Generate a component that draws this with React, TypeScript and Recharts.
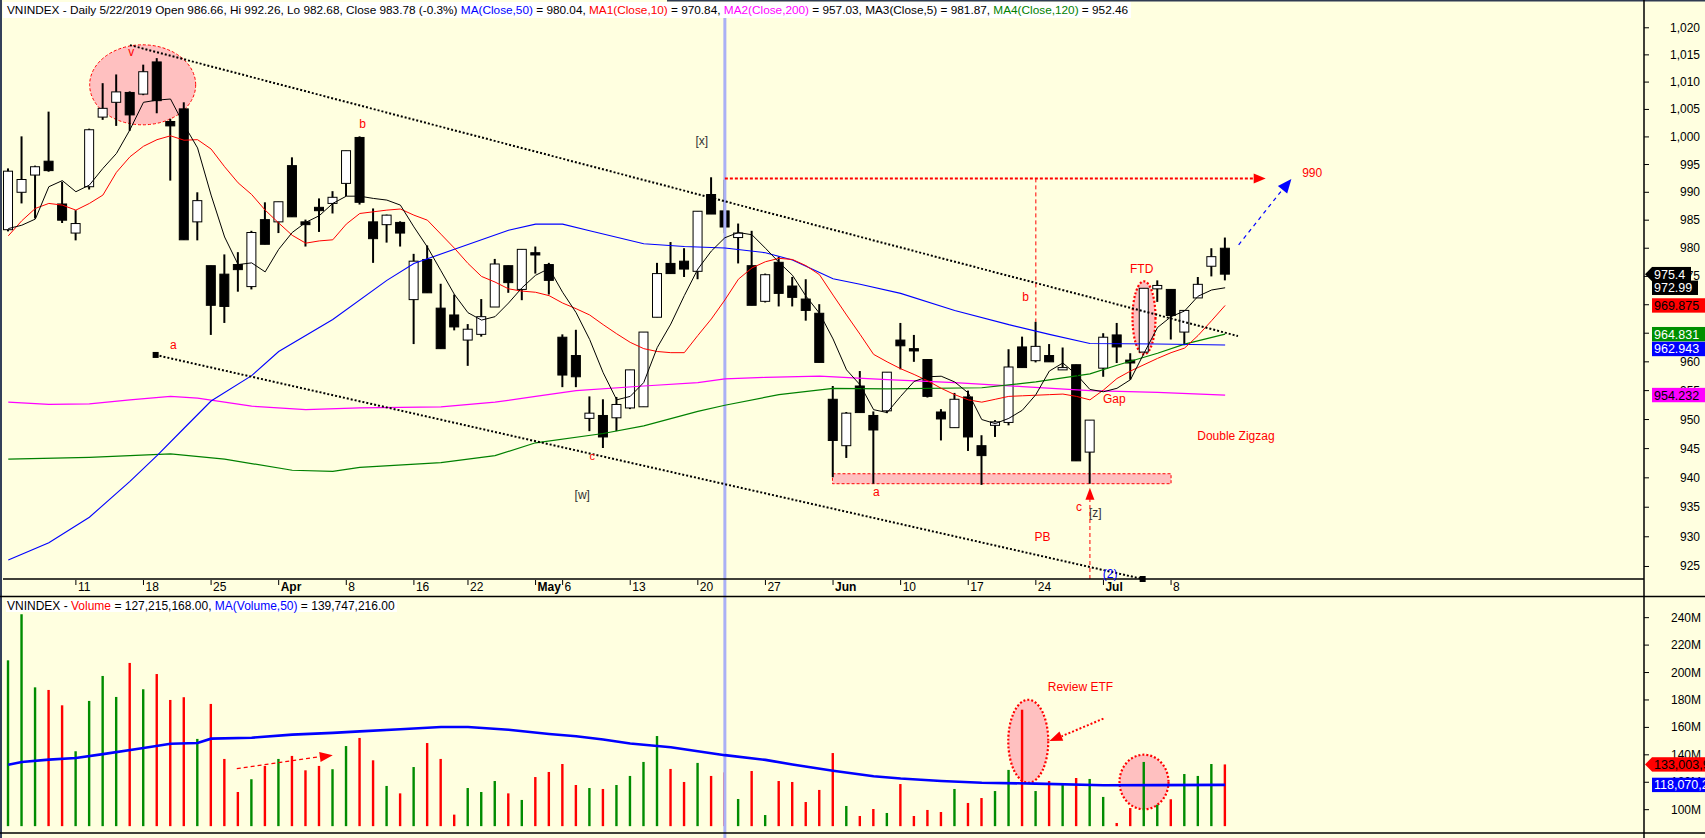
import React from 'react';
import {
  ComposedChart,
  Bar,
  Line,
  XAxis,
  YAxis,
  ReferenceLine,
  ReferenceDot,
  ReferenceArea,
} from 'recharts';

// ---------------- data ----------------
// trading sessions 4 Mar 2019 .. 12 Jul 2019, index 0..90
const OPEN = [
  983.3, 990.0, 993.1, 995.6, 987.9, 982.7, 991.0, 1003.6, 1006.3, 1008.1,
  1007.8, 1013.7, 1002.8, 1005.1, 984.7, 976.9, 975.4, 977.1, 973.2, 985.1,
  984.7, 994.8, 984.7, 987.3, 988.0, 991.6, 999.9, 984.7, 984.2, 984.6,
  970.9, 978.0, 969.4, 968.2, 963.8, 964.8, 969.6, 976.9, 972.7, 979.2,
  977.1, 964.3, 961.1, 950.2, 950.7, 950.3, 952.0, 952.2, 967.8, 977.3,
  977.7, 975.9, 989.6, 986.66, 981.9, 976.9, 970.6, 977.5, 973.3, 971.0,
  968.5, 953.5, 945.5, 955.8, 950.7, 951.5, 963.8, 962.3, 960.4, 951.3,
  948.6, 953.9, 945.5, 949.0, 949.5, 962.6, 960.2, 961.1, 958.6, 959.5,
  944.4, 958.9, 964.7, 960.3, 961.7, 972.8, 972.7, 965.2, 971.2, 976.8,
  980.0,
];
const HIGH = [
  994.3, 1000.1, 994.8, 1004.6, 991.9, 986.8, 1001.5, 1009.8, 1011.4, 1008.3,
  1013.2, 1014.4, 1003.3, 1006.3, 990.0, 976.9, 978.9, 979.3, 983.1, 988.2,
  988.3, 996.3, 985.1, 988.9, 990.2, 997.5, 1000.1, 987.1, 986.0, 984.8,
  979.0, 980.5, 973.7, 971.8, 966.6, 971.0, 978.1, 976.9, 979.8, 980.3,
  977.4, 964.8, 965.6, 954.0, 953.5, 953.9, 958.6, 965.2, 977.4, 981.1,
  980.0, 986.6, 992.7, 992.26, 984.4, 983.1, 975.5, 978.5, 974.9, 974.5,
  970.1, 955.8, 951.3, 958.4, 951.4, 958.2, 966.8, 964.7, 960.4, 951.8,
  954.6, 955.0, 947.3, 949.9, 962.2, 964.4, 967.0, 963.1, 962.5, 959.5,
  949.9, 965.0, 966.8, 961.5, 972.9, 974.3, 972.7, 969.0, 974.9, 980.0,
  981.9,
];
const LOW = [
  983.0, 988.0, 985.3, 993.7, 984.5, 981.4, 990.5, 1003.1, 1002.0, 1001.1,
  1007.6, 1004.3, 992.1, 981.5, 981.4, 964.7, 966.8, 972.3, 972.7, 980.7,
  982.7, 985.6, 980.3, 982.9, 986.2, 989.3, 987.8, 977.4, 981.0, 980.3,
  963.1, 972.1, 962.3, 965.5, 959.3, 964.4, 969.6, 972.1, 970.8, 975.5,
  971.8, 955.6, 955.6, 948.0, 945.1, 948.0, 951.8, 952.2, 967.8, 975.5,
  974.9, 974.5, 986.1, 982.68, 977.3, 969.9, 970.4, 969.7, 969.7, 967.2,
  959.9, 940.1, 943.4, 951.2, 939.0, 951.1, 958.7, 960.0, 953.8, 946.4,
  948.6, 944.6, 938.8, 947.0, 949.0, 959.0, 959.9, 960.0, 958.6, 942.9,
  939.0, 957.4, 959.8, 956.9, 961.7, 970.5, 963.9, 962.9, 971.2, 975.0,
  974.3,
];
const CLOSE = [
  993.8, 992.3, 994.6, 993.9, 985.0, 984.4, 1001.3, 1005.2, 1008.2, 1004.0,
  1011.9, 1006.6, 1002.0, 981.5, 988.5, 969.9, 969.7, 976.2, 982.8, 980.7,
  988.3, 985.6, 984.2, 986.7, 989.1, 997.5, 988.2, 981.7, 985.9, 982.7,
  977.7, 972.1, 962.3, 966.1, 965.7, 967.9, 977.2, 973.9, 979.8, 978.8,
  974.3, 957.7, 957.4, 951.1, 947.0, 952.6, 958.6, 965.2, 975.5, 975.5,
  976.3, 986.6, 986.1, 983.78, 982.7, 969.9, 975.3, 972.0, 971.3, 969.0,
  959.9, 946.4, 951.1, 951.2, 948.2, 958.2, 962.8, 961.9, 954.0, 950.1,
  953.5, 947.0, 943.8, 949.6, 959.1, 959.0, 962.7, 960.0, 959.0, 942.9,
  949.9, 964.3, 962.6, 959.8, 972.9, 973.4, 968.1, 969.0, 973.6, 978.5,
  975.4,
];
// volume in millions of shares
const VOLUME_M = [
  208.9, 242.5, 189.2, 187.3, 176.1, 142.6, 179.3, 197.5, 182.2, 207.0,
  187.8, 198.9, 180.0, 182.0, 151.6, 177.1, 137.0, 112.9, 122.2, 131.9,
  137.0, 139.2, 128.7, 131.9, 129.5, 146.4, 152.3, 136.0, 117.3, 111.9,
  131.1, 148.6, 137.0, 96.4, 115.8, 112.9, 120.9, 111.9, 107.1, 123.8,
  127.5, 133.3, 118.0, 115.8, 115.1, 118.0, 124.6, 134.8, 153.7, 129.7,
  120.2, 134.1, 124.6, 127.2, 107.8, 128.2, 96.1, 120.9, 120.2, 105.6,
  114.4, 141.3, 102.7, 95.4, 100.5, 97.6, 118.7, 95.4, 99.8, 98.3,
  115.1, 104.9, 108.5, 113.6, 129.0, 172.9, 113.6, 120.9, 119.4, 123.1,
  122.4, 109.3, 90.3, 101.2, 134.8, 103.6, 107.6, 126.0, 124.6, 133.3,
  133.0,
];
const MA5 = [
  983.5, 984.1, 985.2, 991.0, 992.1, 990.1, 991.3, 994.3, 997.0, 1001.3,
  1006.3, 1006.7, 1006.9, 1002.2, 998.0, 989.5, 982.0, 977.1, 977.4, 975.8,
  979.8, 982.8, 984.6, 985.8, 988.0, 989.3, 989.3, 988.9, 988.6, 987.7,
  983.8, 980.2, 976.0, 971.8, 968.6, 967.3, 967.9, 970.3, 973.0, 975.2,
  976.4, 972.2, 968.6, 963.9, 958.1, 953.4, 954.0, 956.4, 962.5, 966.6,
  971.6, 976.3, 979.5, 981.87, 982.8, 982.4, 980.0, 977.5, 975.2, 971.5,
  968.5, 964.0, 958.6, 956.0, 951.7, 951.2, 954.0, 956.6, 957.4, 957.5,
  956.5, 954.6, 950.0, 949.3, 950.2, 951.6, 954.3, 958.4, 959.8, 957.8,
  955.2, 954.8, 955.4, 956.9, 961.5, 966.0, 967.9, 968.9, 971.5, 972.6,
  972.99,
];
const MA10 = [
  982.2, 984.9, 987.1, 988.0, 987.7, 986.8, 988.0, 989.5, 993.6, 996.4,
  998.3, 999.5, 1000.2, 999.4, 999.5, 997.8, 994.6, 991.7, 989.6, 986.8,
  984.5, 982.3, 980.9, 981.3, 981.5, 984.3, 986.2, 986.5, 986.8, 987.0,
  985.9, 985.0, 982.5, 980.0, 977.3, 975.0, 974.0, 972.8, 972.4, 972.2,
  971.6, 970.3, 969.3, 968.2, 966.5, 964.9, 963.4, 962.3, 961.8, 961.6,
  961.6, 964.6, 967.5, 970.84, 974.5, 976.5, 977.6, 978.2, 978.0, 976.9,
  975.3, 971.7, 968.2, 964.8, 961.3, 960.0, 958.8, 957.8, 956.7, 955.4,
  954.3, 953.4, 953.0, 953.5, 954.0, 954.1, 954.2, 954.3, 954.4, 954.0,
  953.4, 955.1, 957.1, 958.4, 959.5, 960.6, 961.6, 962.4, 964.6, 967.2,
  969.875,
];
// smooth averages read at a few sessions: [session index, value]
const MA50_POINTS: [number, number][] = [
  [0, 926.1], [3, 929.0], [6, 933.3], [9, 939.4], [11, 943.8], [13, 948.5],
  [15, 953.2], [18, 957.6], [20, 961.8], [24, 967.4], [28, 974.3], [30, 977.3],
  [33, 979.8], [37, 983.2], [39, 984.3], [41, 984.3], [43, 983.1], [47, 980.8],
  [50, 980.3], [53, 980.04], [56, 979.2], [58, 977.9], [61, 974.6], [63, 973.6],
  [66, 972.0], [70, 969.0], [74, 966.5], [77, 964.8], [80, 963.2], [85, 963.1],
  [90, 962.943],
];
const MA120_POINTS: [number, number][] = [
  [0, 943.2], [6, 943.5], [12, 944.1], [16, 943.2], [21, 941.3], [24, 941.1],
  [26, 941.8], [32, 942.6], [36, 943.8], [39, 946.0], [44, 947.6], [47, 948.9],
  [51, 951.4], [53, 952.46], [57, 954.3], [61, 955.4], [65, 955.3], [72, 955.5],
  [76, 956.5], [80, 957.9], [82, 959.4], [85, 961.5], [87, 963.1], [90, 964.831],
];
const MA200_POINTS: [number, number][] = [
  [0, 953.0], [3, 952.6], [6, 952.7], [9, 953.4], [12, 954.0], [14, 953.7],
  [18, 952.3], [22, 951.7], [26, 952.0], [32, 952.2], [36, 953.0], [39, 954.0],
  [42, 955.0], [47, 955.8], [51, 956.4], [53, 957.03], [56, 957.3], [60, 957.5],
  [65, 956.9], [70, 956.4], [75, 955.7], [80, 955.0], [85, 954.7], [90, 954.232],
];
const VOL_MA50_POINTS: [number, number][] = [
  [0, 132.8], [1, 134.8], [3, 136.5], [5, 137.7], [7, 140.5], [10, 145.0],
  [12, 148.1], [14, 148.6], [15, 151.8], [18, 152.5], [21, 154.7], [24, 156.0],
  [26, 157.1], [29, 158.6], [32, 160.3], [34, 160.3], [37, 158.3], [40, 155.2],
  [42, 153.5], [44, 151.2], [46, 148.2], [49, 145.5], [52, 141.2], [53, 139.75],
  [56, 136.3], [58, 132.9], [61, 128.4], [64, 124.4], [66, 122.7], [69, 120.9],
  [72, 119.6], [76, 119.0], [81, 117.8], [85, 117.9], [90, 118.07],
];
const PRICE_TICKS = [925, 930, 935, 940, 945, 950, 955, 960, 965, 970, 975, 980, 985, 990, 995, 1000, 1005, 1010, 1015, 1020];
const VOLUME_TICKS = [100, 120, 140, 160, 180, 200, 220, 240];
const DATE_TICK_IDX = [5, 10, 15, 20, 25, 30, 34, 39, 41, 46, 51, 56, 61, 66, 71, 76, 81, 86];
const DATE_TICK_LABELS = ['11', '18', '25', 'Apr', '8', '16', '22', 'May', '6', '13', '20', '27', 'Jun', '10', '17', '24', 'Jul', '8'];
const VOLUME_BASE_M = 88;
const SELECTED_IDX = 53;

// ---------------- layout / style ----------------
const FONT = '"Liberation Sans", Arial, Helvetica, sans-serif';
const W = 1705;
const H = 838;
const MAIN_H = 596;
const VOL_H = 242;
const AXIS_W = 61;
const DATE_H = 17;
const PLOT_BOTTOM = MAIN_H - DATE_H;
const AXIS_X = W - AXIS_W;
const BG = '#FFFFE0';
const PINK = '#FFC0C0';
const RED = '#FF0000';
const GREEN = '#008C00';
const BLUE = '#0000FF';
const MAGENTA = '#FF00FF';
const X_DOMAIN: [number, number] = [-0.39, 120.98];
const PRICE_DOMAIN: [number, number] = [922.9, 1024.6];
const VOL_DOMAIN: [number, number] = [83.0, 255.8];
const MAIN_MARGIN = { top: 3, right: 0, bottom: 0, left: 3 };
const VOL_MARGIN = { top: 0, right: 0, bottom: 5, left: 3 };

const m50 = new Map(MA50_POINTS);
const m120 = new Map(MA120_POINTS);
const m200 = new Map(MA200_POINTS);
const vm50 = new Map(VOL_MA50_POINTS);

const rows = OPEN.map((o, i) => ({
  i,
  open: o,
  high: HIGH[i],
  low: LOW[i],
  close: CLOSE[i],
  up: CLOSE[i] >= o,
  ma5: MA5[i],
  ma10: MA10[i],
  ma50: m50.get(i),
  ma120: m120.get(i),
  ma200: m200.get(i),
  vol: VOLUME_M[i],
  volMa: vm50.get(i),
}));

// ---------------- shapes ----------------
const Candle = (p: any) => {
  const d = p.payload;
  if (!d || d.open == null) return null;
  const top = Math.min(p.y, p.y + p.height);
  const h = Math.abs(p.height);
  const lnH = Math.log(d.high);
  const lnL = Math.log(d.low);
  const span = lnH - lnL;
  const py = (v: number) => (span > 0 ? top + (h * (lnH - Math.log(v))) / span : top);
  const cx = p.x + p.width / 2;
  const yo = py(d.open);
  const yc = py(d.close);
  const bt = Math.min(yo, yc);
  const bh = Math.max(Math.abs(yo - yc), 1.5);
  return (
    <g>
      <line x1={cx} x2={cx} y1={top} y2={top + h} stroke="#000" strokeWidth={2} />
      <rect x={cx - 4.5} y={bt} width={9} height={bh} fill={d.up ? '#FFFFFF' : '#000000'} stroke="#000" strokeWidth={1} />
    </g>
  );
};

const VolumeBar = (p: any) => {
  const d = p.payload;
  if (!d) return null;
  const top = Math.min(p.y, p.y + p.height);
  return <rect x={p.x + p.width / 2 - 1.2} y={top} width={2.4} height={Math.abs(p.height)} fill={d.up ? GREEN : RED} />;
};

const textMark = (text: string, color: string, size = 12, anchor: 'start' | 'middle' | 'end' = 'middle') => (p: any) => (
  <text x={p.cx} y={p.cy} fill={color} fontSize={size} textAnchor={anchor} dominantBaseline="central" fontFamily={FONT}>
    {text}
  </text>
);

const ellipseMark = (rx: number, ry: number, dash: string, sw: number) => (p: any) => (
  <ellipse cx={p.cx} cy={p.cy} rx={rx} ry={ry} fill={PINK} stroke={RED} strokeDasharray={dash} strokeWidth={sw} />
);

const squareMark = (p: any) => <rect x={p.cx - 3} y={p.cy - 3} width={6} height={6} fill="#000" />;

const arrowHead = (color: string, angle: number, len = 13, half = 5) => (p: any) => (
  <polygon
    points={`${p.cx},${p.cy} ${p.cx - len},${p.cy - half} ${p.cx - len},${p.cy + half}`}
    fill={color}
    transform={`rotate(${angle} ${p.cx} ${p.cy})`}
  />
);

const priceBox = (text: string, bg: string, fg: string, boxW: number, pointer = false, dy = 0) => (p: any) => {
  const cy = p.cy + dy;
  const x0 = p.cx + 8;
  return (
    <g>
      {pointer && <polygon points={`${p.cx + 1},${cy} ${x0},${cy - 7.2} ${x0},${cy + 7.2}`} fill={bg} />}
      <rect x={x0} y={cy - 7.2} width={boxW} height={14.4} fill={bg} />
      <text x={x0 + 2} y={cy + 0.5} fill={fg} fontSize={12.5} dominantBaseline="central" fontFamily={FONT}>
        {text}
      </text>
    </g>
  );
};

const DateTick = (p: any) => {
  const k = DATE_TICK_IDX.indexOf(p.payload.value);
  const label = DATE_TICK_LABELS[k] ?? '';
  const bold = /[A-Za-z]/.test(label);
  return (
    <g>
      <line x1={p.x} x2={p.x} y1={PLOT_BOTTOM + 1} y2={PLOT_BOTTOM + 6} stroke="#000" strokeWidth={1} />
      <text x={p.x + 2} y={PLOT_BOTTOM + 12} fontSize={12} fontWeight={bold ? 700 : 400} fill="#000" fontFamily={FONT}>
        {label}
      </text>
    </g>
  );
};

const PriceTick = (p: any) => (
  <text x={W - 5} y={p.y} textAnchor="end" dominantBaseline="central" fontSize={12} fill="#000" fontFamily={FONT}>
    {Number(p.payload.value).toLocaleString('en-US')}
  </text>
);

const VolumeTick = (p: any) => (
  <text x={W - 4} y={p.y} textAnchor="end" dominantBaseline="central" fontSize={12} fill="#000" fontFamily={FONT}>
    {`${p.payload.value}M`}
  </text>
);

// ---------------- axes ----------------
const mainX = (visible: boolean) => (
  <XAxis
    type="number"
    dataKey="i"
    domain={X_DOMAIN}
    allowDataOverflow
    ticks={DATE_TICK_IDX}
    interval={0}
    height={DATE_H}
    tickLine={false}
    axisLine={visible ? { stroke: '#000', strokeWidth: 1.5 } : false}
    tick={visible ? (p: any) => <DateTick {...p} /> : false}
  />
);
const mainY = (visible: boolean) => (
  <YAxis
    type="number"
    orientation="right"
    scale="log"
    domain={PRICE_DOMAIN}
    allowDataOverflow
    ticks={PRICE_TICKS}
    interval={0}
    width={AXIS_W}
    axisLine={false}
    tickSize={5}
    tickLine={visible ? { stroke: '#000' } : false}
    tick={visible ? (p: any) => <PriceTick {...p} /> : false}
  />
);
const volX = () => <XAxis type="number" dataKey="i" domain={X_DOMAIN} allowDataOverflow hide />;
const volY = (visible: boolean) => (
  <YAxis
    type="number"
    orientation="right"
    domain={VOL_DOMAIN}
    allowDataOverflow
    ticks={VOLUME_TICKS}
    interval={0}
    width={AXIS_W}
    axisLine={false}
    tickSize={5}
    tickLine={visible ? { stroke: '#000' } : false}
    tick={visible ? (p: any) => <VolumeTick {...p} /> : false}
  />
);

// ---------------- layers ----------------
const MainUnder = () => (
  <ComposedChart width={W} height={MAIN_H} data={rows} margin={MAIN_MARGIN}>
    {mainX(false)}
    {mainY(false)}
    <ReferenceArea x1={60.96} x2={86.0} y1={939.0} y2={940.7} fill={PINK} fillOpacity={1} stroke={RED} strokeDasharray="3 2" strokeWidth={1} />
    <ReferenceDot x={9.94} y={1009.5} shape={ellipseMark(53, 40, '3 2', 1)} />
    <ReferenceDot x={84} y={967.7} shape={ellipseMark(11.5, 36.5, '2 2', 2.2)} />
  </ComposedChart>
);

const MainChart = () => (
  <ComposedChart width={W} height={MAIN_H} data={rows} margin={MAIN_MARGIN}>
    {mainX(true)}
    {mainY(true)}
    <ReferenceLine segment={[{ x: SELECTED_IDX, y: PRICE_DOMAIN[1] }, { x: SELECTED_IDX, y: 920.06 }]} stroke="#AAB0F5" strokeWidth={3} ifOverflow="visible" />
    <Line dataKey="ma200" stroke={MAGENTA} strokeWidth={1.2} dot={false} connectNulls isAnimationActive={false} />
    <Line dataKey="ma120" stroke="#008000" strokeWidth={1.2} dot={false} connectNulls isAnimationActive={false} />
    <Line dataKey="ma50" stroke={BLUE} strokeWidth={1.1} dot={false} connectNulls isAnimationActive={false} />
    <Line dataKey="ma10" stroke={RED} strokeWidth={1} dot={false} isAnimationActive={false} />
    <Line dataKey="ma5" stroke="#000" strokeWidth={1} dot={false} isAnimationActive={false} />
    <Bar dataKey={(d: any) => [d.low, d.high]} shape={(p: any) => <Candle {...p} />} barSize={9} isAnimationActive={false} />

    {/* channel lines */}
    <ReferenceLine segment={[{ x: 9.0, y: 1016.8 }, { x: 90.95, y: 964.5 }]} stroke="#000" strokeWidth={2} strokeDasharray="2 2" />
    <ReferenceLine segment={[{ x: 10.9, y: 961.2 }, { x: 83.9, y: 922.9 }]} stroke="#000" strokeWidth={2} strokeDasharray="2 2" />
    <ReferenceDot x={10.9} y={961.2} shape={squareMark} />
    <ReferenceDot x={83.9} y={922.9} shape={squareMark} />

    {/* target 990 */}
    <ReferenceLine segment={[{ x: SELECTED_IDX, y: 992.5 }, { x: 92.3, y: 992.5 }]} stroke={RED} strokeWidth={2} strokeDasharray="3 2" />
    <ReferenceDot x={93.0} y={992.5} shape={arrowHead(RED, 0, 12, 5)} />
    <ReferenceLine segment={[{ x: 76, y: 992.5 }, { x: 76, y: 967.0 }]} stroke={RED} strokeWidth={1} strokeDasharray="4 3" />
    <ReferenceLine segment={[{ x: 91.0, y: 980.6 }, { x: 94.6, y: 991.6 }]} stroke={BLUE} strokeWidth={1.2} strokeDasharray="4 4" />
    <ReferenceDot x={94.9} y={992.4} shape={arrowHead(BLUE, -50.8, 14, 6)} />

    {/* pullback arrow */}
    <ReferenceLine segment={[{ x: 80, y: 922.9 }, { x: 80, y: 936.5 }]} stroke={RED} strokeWidth={1} strokeDasharray="4 3" />
    <ReferenceDot x={80} y={938.3} shape={arrowHead(RED, -90, 12, 4.5)} />

    {/* wave labels */}
    <ReferenceDot x={9.1} y={1015.6} shape={textMark('v', RED, 12)} />
    <ReferenceDot x={26.2} y={1002.4} shape={textMark('b', RED, 12)} />
    <ReferenceDot x={12.2} y={963.0} shape={textMark('a', RED, 12)} />
    <ReferenceDot x={51.3} y={999.2} shape={textMark('[x]', '#333', 12)} />
    <ReferenceDot x={43.2} y={943.8} shape={textMark('c', RED, 11)} />
    <ReferenceDot x={42.45} y={937.1} shape={textMark('[w]', '#333', 12)} />
    <ReferenceDot x={75.25} y={971.4} shape={textMark('b', RED, 12)} />
    <ReferenceDot x={64.2} y={937.6} shape={textMark('a', RED, 12)} />
    <ReferenceDot x={79.2} y={935.0} shape={textMark('c', RED, 12)} />
    <ReferenceDot x={80.4} y={934.0} shape={textMark('[z]', '#333', 12)} />
    <ReferenceDot x={76.5} y={929.9} shape={textMark('PB', RED, 12)} />
    <ReferenceDot x={81.5} y={923.8} shape={textMark('(2)', BLUE, 12)} />
    <ReferenceDot x={83.83} y={976.3} shape={textMark('FTD', RED, 12)} />
    <ReferenceDot x={81.8} y={953.5} shape={textMark('Gap', RED, 12)} />
    <ReferenceDot x={90.8} y={947.2} shape={textMark('Double Zigzag', RED, 12)} />
    <ReferenceDot x={95.7} y={993.5} shape={textMark('990', RED, 12, 'start')} />
  </ComposedChart>
);

const MainOver = () => (
  <ComposedChart width={W} height={MAIN_H} data={rows} margin={MAIN_MARGIN}>
    {mainX(false)}
    {mainY(false)}
    <ReferenceDot x={X_DOMAIN[1]} y={975.4} shape={priceBox('975.4', '#000', '#FFF', 39, true)} />
    <ReferenceDot x={X_DOMAIN[1]} y={972.99} shape={priceBox('972.99', '#000', '#FFF', 46)} />
    <ReferenceDot x={X_DOMAIN[1]} y={969.875} shape={priceBox('969.875', RED, '#000', 53)} />
    <ReferenceDot x={X_DOMAIN[1]} y={964.831} shape={priceBox('964.831', '#009000', '#FFF', 53)} />
    <ReferenceDot x={X_DOMAIN[1]} y={962.943} shape={priceBox('962.943', BLUE, '#FFF', 53, false, 4)} />
    <ReferenceDot x={X_DOMAIN[1]} y={954.232} shape={priceBox('954.232', MAGENTA, '#000', 53)} />
  </ComposedChart>
);

const VolUnder = () => (
  <ComposedChart width={W} height={VOL_H} data={rows} margin={VOL_MARGIN}>
    {volX()}
    {volY(false)}
    <ReferenceDot x={75.44} y={149.9} shape={ellipseMark(20, 41.5, '2 2', 2.2)} />
    <ReferenceDot x={84.0} y={120.2} shape={ellipseMark(24.5, 27.3, '2 2', 2.2)} />
  </ComposedChart>
);

const VolChart = () => (
  <ComposedChart width={W} height={VOL_H} data={rows} margin={VOL_MARGIN}>
    {volX()}
    {volY(true)}
    <ReferenceLine segment={[{ x: SELECTED_IDX, y: VOL_DOMAIN[1] }, { x: SELECTED_IDX, y: 79.4 }]} stroke="#AAB0F5" strokeWidth={3} ifOverflow="visible" />
    <Bar dataKey={(d: any) => [VOLUME_BASE_M, d.vol]} shape={(p: any) => <VolumeBar {...p} />} barSize={3} isAnimationActive={false} />
    <Line dataKey="volMa" stroke={BLUE} strokeWidth={2.6} dot={false} connectNulls isAnimationActive={false} />
    <ReferenceLine segment={[{ x: 16.9, y: 129.9 }, { x: 23.2, y: 138.9 }]} stroke={RED} strokeWidth={1.2} strokeDasharray="4 3" />
    <ReferenceDot x={24.0} y={139.7} shape={arrowHead(RED, -7.9, 13, 5)} />
    <ReferenceDot x={79.3} y={189.5} shape={textMark('Review ETF', RED, 12)} />
    <ReferenceLine segment={[{ x: 81.0, y: 166.4 }, { x: 77.9, y: 153.5 }]} stroke={RED} strokeWidth={2} strokeDasharray="2 2" />
    <ReferenceDot x={77.0} y={150.1} shape={arrowHead(RED, 157.7, 13, 5)} />
  </ComposedChart>
);

const VolOver = () => (
  <ComposedChart width={W} height={VOL_H} data={rows} margin={VOL_MARGIN}>
    {volX()}
    {volY(false)}
    <ReferenceDot x={X_DOMAIN[1]} y={133.0} shape={priceBox('133,003,968', RED, '#000', 60, true)} />
    <ReferenceDot x={X_DOMAIN[1]} y={118.07} shape={priceBox('118,070,208', BLUE, '#FFF', 60)} />
  </ComposedChart>
);

const layer = (top: number): React.CSSProperties => ({ position: 'absolute', left: 0, top });

export default function App() {
  return (
    <div style={{ position: 'absolute', left: 0, top: 0, width: W, height: H, background: BG, overflow: 'hidden', fontFamily: FONT }}>
      <div style={layer(0)}><MainUnder /></div>
      <div style={layer(0)}><MainChart /></div>
      <div style={layer(0)}><MainOver /></div>
      <div style={layer(MAIN_H)}><VolUnder /></div>
      <div style={layer(MAIN_H)}><VolChart /></div>
      <div style={layer(MAIN_H)}><VolOver /></div>

      {/* frame lines */}
      <svg width={W} height={H} style={{ position: 'absolute', left: 0, top: 0, pointerEvents: 'none' }}>
        <rect x={0} y={0} width={2} height={H} fill="#34405A" />
        <rect x={667} y={0} width={W - 667} height={1.5} fill="#2F3B52" />
        <line x1={AXIS_X} x2={AXIS_X} y1={0} y2={H} stroke="#000" strokeWidth={1.5} />
        <line x1={0} x2={W} y1={MAIN_H + 0.5} y2={MAIN_H + 0.5} stroke="#000" strokeWidth={1.5} />
        <line x1={0} x2={W} y1={833} y2={833} stroke="#000" strokeWidth={1.5} />
      </svg>

      {/* titles */}
      <div style={{ position: 'absolute', left: 3, top: 2, height: 16, lineHeight: '16px', fontSize: 11.8, background: '#FFF', padding: '0 3px 0 4px', whiteSpace: 'nowrap', color: '#000' }}>
        VNINDEX - Daily 5/22/2019 Open 986.66, Hi 992.26, Lo 982.68, Close 983.78 (-0.3%){' '}
        <span style={{ color: BLUE }}>MA(Close,50)</span> = 980.04,{' '}
        <span style={{ color: RED }}>MA1(Close,10)</span> = 970.84,{' '}
        <span style={{ color: MAGENTA }}>MA2(Close,200)</span> = 957.03,{' '}
        <span style={{ color: '#000' }}>MA3(Close,5)</span> = 981.87,{' '}
        <span style={{ color: '#008000' }}>MA4(Close,120)</span> = 952.46
      </div>
      <div style={{ position: 'absolute', left: 6, top: 600, height: 12, lineHeight: '12px', fontSize: 12, background: '#FFF', padding: '0 2px 0 1px', whiteSpace: 'nowrap', color: '#000' }}>
        VNINDEX - <span style={{ color: RED }}>Volume</span> = 127,215,168.00,{' '}
        <span style={{ color: BLUE }}>MA(Volume,50)</span> = 139,747,216.00
      </div>
    </div>
  );
}
